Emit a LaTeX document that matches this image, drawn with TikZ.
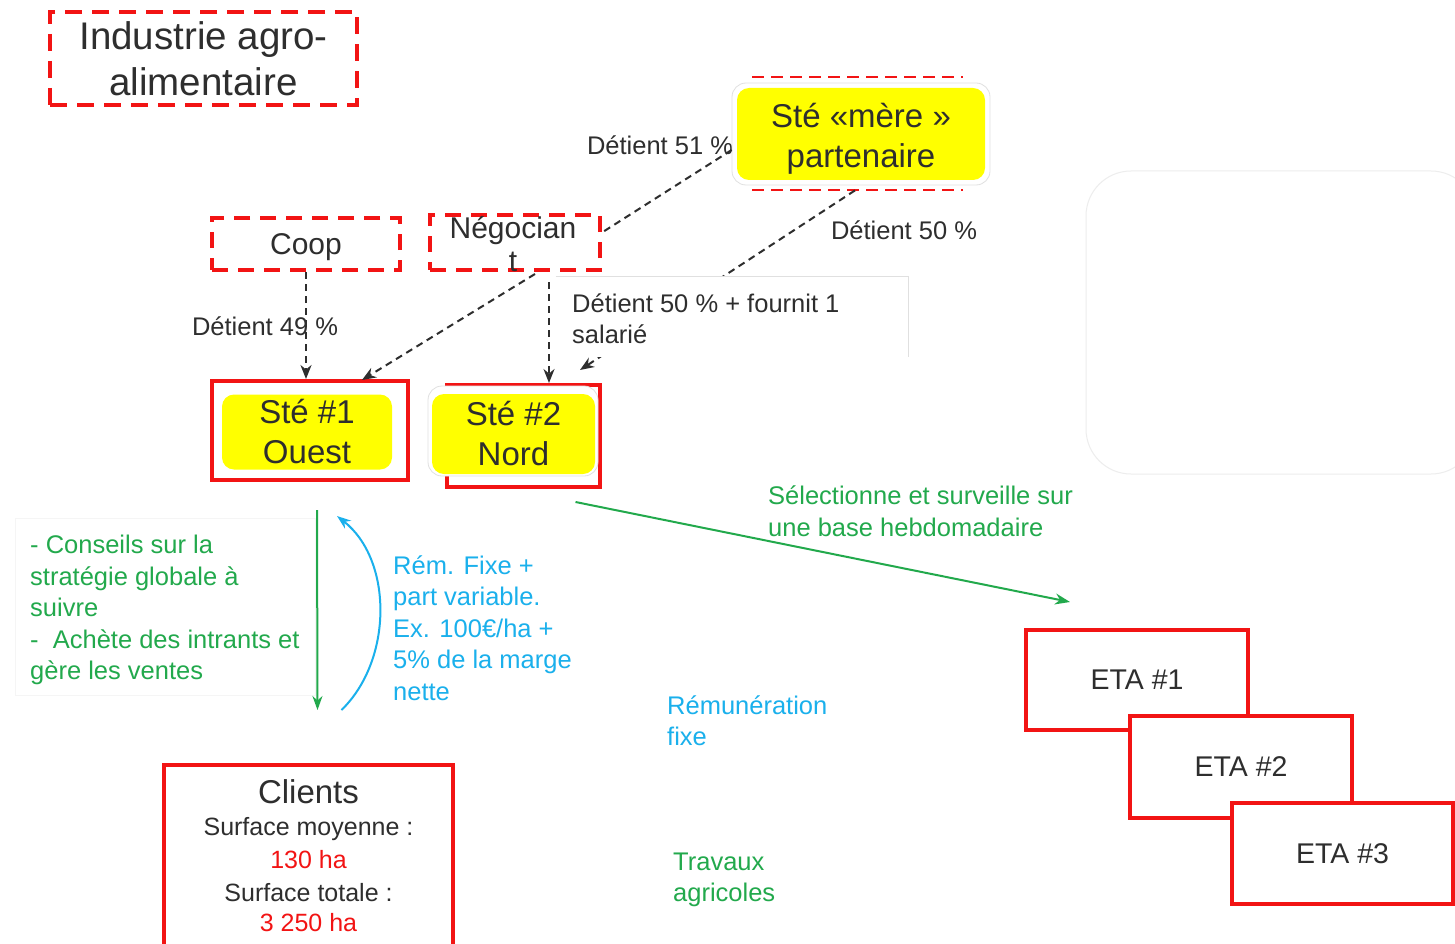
\documentclass[tikz,border=0pt]{standalone}
\usepackage{fontspec}
\setmainfont{Liberation Sans}
\usetikzlibrary{arrows.meta,calc}
\definecolor{rred}{HTML}{F21414}
\definecolor{yel}{HTML}{FFFF00}
\definecolor{gtxt}{HTML}{22A94C}
\definecolor{btxt}{HTML}{1AB0EC}
\definecolor{dk}{HTML}{2E2E2E}
\newcommand\myfs[2]{\fontsize{#1}{#2}\selectfont}
\begin{document}
\begin{tikzpicture}[x=1pt,y=-1pt,
  txt/.style={text=dk, inner sep=0pt},
  redbox/.style={draw=rred, line width=4pt, fill=white, inner sep=0pt},
  reddash/.style={draw=rred, line width=4pt, dash pattern=on 17pt off 10pt, inner sep=0pt},
  conn/.style={draw=dk, line width=2pt, dash pattern=on 7pt off 5pt, -{Stealth[length=14pt,width=11pt]}},
  connplain/.style={draw=dk, line width=2pt, dash pattern=on 7pt off 5pt},
  yelbox/.style={fill=yel, rounded corners=12pt, inner sep=0pt, text=dk, align=center},
  whitebox/.style={fill=white, draw=black!12, line width=0.8pt, rounded corners=14pt, inner sep=0pt},
  gtext/.style={text=gtxt, inner sep=0pt, align=left},
  btext/.style={text=btxt, inner sep=0pt, align=left},
]
\clip (0,0) rectangle (1455,944);
\fill[white] (0,0) rectangle (1455,944);

% faint rounded panel on the right
\node[draw=black!7, line width=1pt, rounded corners=45pt, minimum width=390pt, minimum height=303pt, inner sep=0pt] (panel) at (1281,322.5) {};

% Industrie agro-alimentaire
\node[reddash, minimum width=307pt, minimum height=93pt, text=dk, align=center, font=\myfs{38.5}{46}] (ind) at (203.5,58.5) {Industrie agro-\\alimentaire};

% labels under arrows
\node[txt, font=\myfs{25.5}{31}] (l51) at (660,145) {Détient 51 \%};
\node[txt, font=\myfs{25.5}{31}] (l50) at (904,230) {Détient 50 \%};
\node[txt, font=\myfs{25.5}{31}] (l49) at (265,326) {Détient 49 \%};

% Ste mere
\node[whitebox, minimum width=258pt, minimum height=102pt] (merew) at (861,134) {};
\node[yelbox, minimum width=248pt, minimum height=92pt] (mere) at (861,134) {};
\node[txt, align=center, font=\myfs{33}{40}] (meretxt) at (861,139) {Sté «mère »\\partenaire};
\coordinate (mt1) at (752,77);
\coordinate (mt2) at (963,77);
\coordinate (mb1) at (752,190);
\coordinate (mb2) at (963,190);
\draw[rred, line width=2.5pt, dash pattern=on 12pt off 7pt] (mt1) -- (mt2);
\draw[rred, line width=2.5pt, dash pattern=on 12pt off 7pt] (mb1) -- (mb2);

% Coop and Negociant
\node[reddash, minimum width=188pt, minimum height=52pt, dash pattern=on 16pt off 10pt] (coop) at (306,244) {};
\node[txt, font=\myfs{30}{33}] (cooptxt) at (306,247) {Coop};
\node[reddash, minimum width=170pt, minimum height=55pt, dash pattern=on 16pt off 10pt] (neg) at (515,242.5) {};
\node[txt, font=\myfs{30}{33}, align=center] (negtxt) at (513,244) {Négocian\\t};

% Ste #1
\node[redbox, minimum width=196pt, minimum height=99pt] (ste1) at (310,430.5) {};
\node[yelbox, minimum width=170pt, minimum height=75pt, font=\myfs{33}{40}] (ste1y) at (307,432) {Sté \#1\\Ouest};

% Ste #2
\node[redbox, minimum width=153pt, minimum height=102pt] (ste2) at (523.5,436) {};
\node[whitebox, minimum width=170pt, minimum height=90pt] (ste2w) at (513,431) {};
\node[yelbox, minimum width=163pt, minimum height=80pt, font=\myfs{33}{40}] (ste2y) at (513.5,434) {Sté \#2\\Nord};

% dashed connectors
\coordinate (n2s) at ($(neg.south)+(34,10)$);
\draw[conn] (coop.south) -- (coop.south |- ste1.north);
\draw[conn] ($(neg.south)+(20,2)$) -- ($(ste1.north)+(52,1)$);
\draw[conn] (n2s) -- (n2s |- ste2.north);
\draw[connplain] ($(merew.west)+(0,16)$) -- ($(neg.east)+(0,-10)$);
\draw[conn] ($(merew.south)+(-6,5)$) -- ($(ste2.north east)+(-22,-13)$);

% label box hiding the connector
\node[fill=white, minimum width=352pt, minimum height=80pt, inner sep=0pt] (lbox) at (732,317) {};
\draw[black!12, line width=0.8pt] (lbox.north west) -- (lbox.north east) -- (lbox.south east);
\node[txt, font=\myfs{25.5}{31}, align=left, anchor=west] (l50f) at (572,318.5) {Détient 50 \% + fournit 1\\salarié};

% Clients
\node[redbox, minimum width=289pt, minimum height=195pt] (clients) at (308.5,862.5) {};
\node[txt, font=\myfs{33}{36}] (clt) at (308.5,792) {Clients};
\node[txt, font=\myfs{25}{30}] (cl1) at (308.5,829) {Surface moyenne :};
\node[txt, font=\myfs{25}{30}, text=rred] (cl2) at (308.5,860) {130 ha};
\node[txt, font=\myfs{25}{30}] (cl3) at (308.5,893) {Surface totale :};
\node[txt, font=\myfs{25}{30}, text=rred] (cl4) at (308.5,923) {3 250 ha};

% green text block
\node[draw=black!4, fill=white, minimum width=300pt, minimum height=177pt, inner sep=0pt] (gbox) at (165,606.5) {};
\node[gtext, font=\myfs{25.5}{31.5}, anchor=west] (gconseils) at (30,610) {- Conseils sur la\\stratégie globale à\\suivre\\-~~Achète des intrants et\\gère les ventes};

% green and blue arrows
\draw[gtxt, line width=2pt, -{Stealth[length=14pt,width=10pt]}] ($(ste1.south)+(7,28)$) -- ($(clients.north)+(9,-53)$);
\draw[btxt, line width=2pt, -{Stealth[length=14pt,width=10pt]}] ($(clients.north)+(33,-53)$) .. controls (393,660) and (393,560) .. ($(ste1.south)+(27,34)$);
\node[btext, font=\myfs{25.5}{31.5}, anchor=west] (rem) at (393,628) {Rém. Fixe +\\part variable.\\Ex. 100€/ha +\\5\% de la marge\\nette};

% ETAs
\node[redbox, minimum width=222pt, minimum height=100pt, font=\myfs{28.5}{32}, text=dk] (eta1) at (1137,680) {ETA \#1};
\node[redbox, minimum width=222pt, minimum height=102pt, font=\myfs{28.5}{32}, text=dk] (eta2) at (1241,767) {ETA \#2};
\node[redbox, minimum width=221pt, minimum height=101pt, font=\myfs{28.5}{32}, text=dk] (eta3) at (1342.5,853.5) {ETA \#3};

\draw[gtxt, line width=2pt, -{Stealth[length=15pt,width=11pt]}] ($(ste2.south)+(52,13)$) -- ($(eta1.north west)+(46,-26)$);
\node[gtext, font=\myfs{25.5}{31.5}, anchor=west] (sel) at (768,511) {Sélectionne et surveille sur\\une base hebdomadaire};

\node[btext, font=\myfs{25.5}{31}, anchor=west] (remfix) at (667,721) {Rémunération\\fixe};
\node[gtext, font=\myfs{25.5}{31}, anchor=west] (trav) at (673,880) {Travaux\\agricoles};
\end{tikzpicture}
\end{document}
